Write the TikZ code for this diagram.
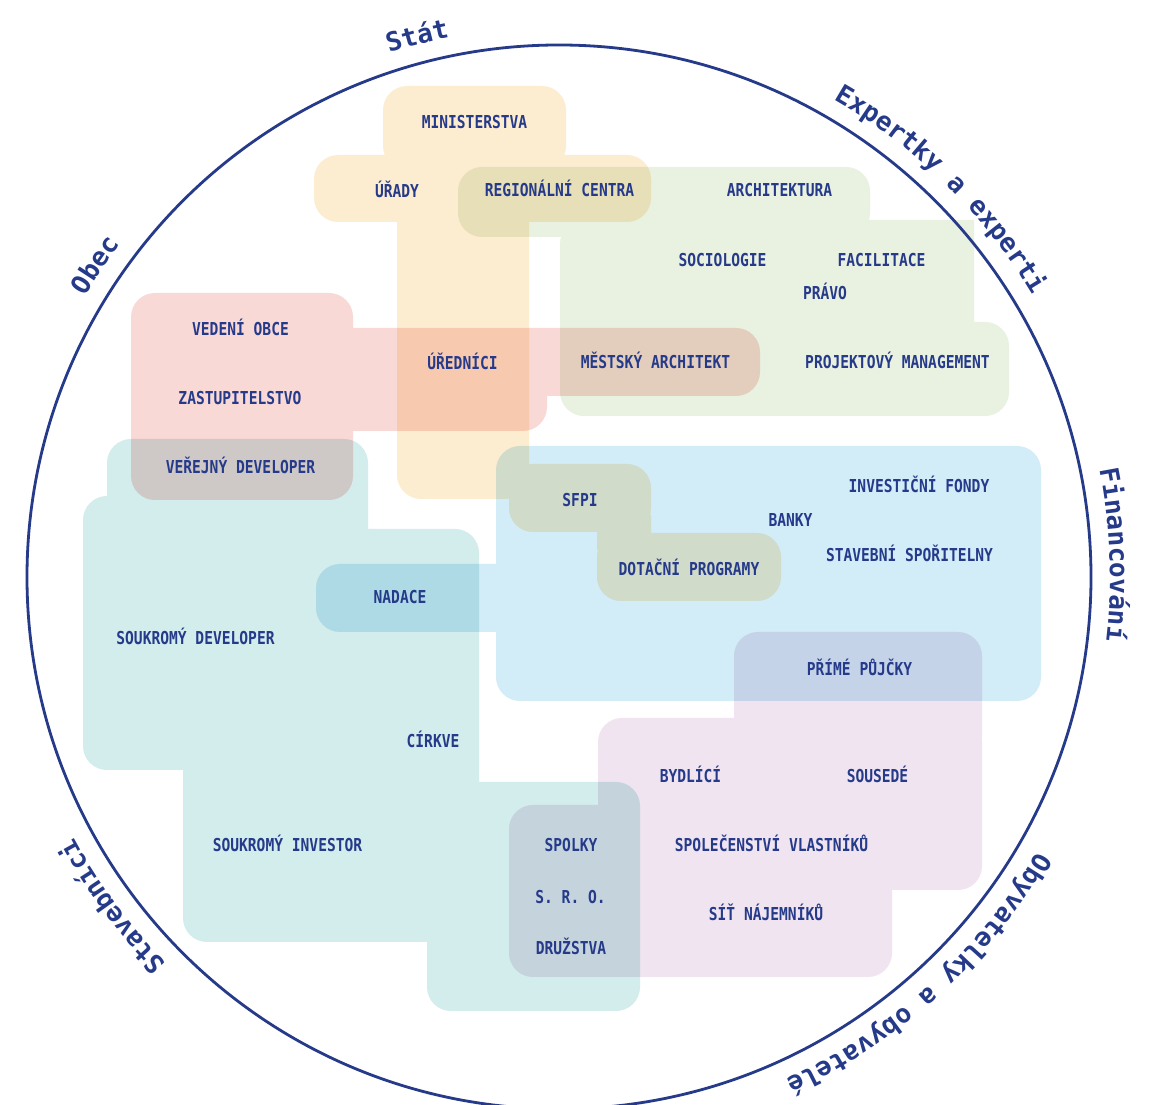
\documentclass[tikz,border=0pt]{standalone}
\usepackage{fontspec}
\usetikzlibrary{decorations.text,calc}
\newfontfamily\boxfam{DejaVu Sans Mono}[FakeStretch=0.82]
\newfontfamily\circfam{DejaVu Sans Mono}
\newcommand\boxfont{\boxfam\bfseries\fontsize{17.8}{20}\selectfont}
\newcommand\circfont{\circfam\bfseries\fontsize{26}{28}\selectfont}
\definecolor{navy}{HTML}{263A8A}
\definecolor{cyel}{HTML}{FDEDD0}
\definecolor{cgrn}{HTML}{E9F1E1}
\definecolor{cpnk}{HTML}{F9D9D6}
\definecolor{ctel}{HTML}{D3ECEC}
\definecolor{cblu}{HTML}{D2ECF8}
\definecolor{cpur}{HTML}{EFE4EF}
\tikzset{
  lab/.style={font=\boxfont, text=navy, inner sep=0pt, text height=13pt, text depth=0pt, anchor=center},
  circlab/.style={decorate, decoration={text along path, text align=center, text color=navy}},
  blob/.style={rounded corners=24pt}
}
\begin{document}
\begin{tikzpicture}[x=1pt,y=1pt]
\useasboundingbox (0,0) rectangle (1156,1105);
\clip (0,0) rectangle (1156,1105);
\fill[white] (0,0) rectangle (1156,1105);
\begin{scope}[blend mode=multiply]
% Stat (yellow)
\fill[cyel, blob] (383,935) rectangle (566,1019)
  (314,883) rectangle (651,950)
  (397,606) rectangle (529,925)
  (509,573) rectangle (651,641)
  (597,504) rectangle (781,572)
  [sharp corners] (597,555) rectangle (651,590);
% Expertky a experti (green)
\fill[cgrn, blob] (458,868) rectangle (870,938)
  (560,689) rectangle (974,885)
  (560,689) rectangle (1009,783)
  [sharp corners] (940,855) rectangle (974,885);
% Obec (pink)
\fill[cpnk, blob] (131,605) rectangle (353,812)
  (300,709) rectangle (760,777)
  (300,674) rectangle (547,777);
% Stavebnici (teal)
\fill[ctel, blob] (107,545) rectangle (368,666)
  (83,335) rectangle (300,609)
  (183,163) rectangle (479,576)
  (427,94) rectangle (640,323);
% Financovani (blue)
\fill[cblu, blob] (496,404) rectangle (1041,659)
  (316,473) rectangle (520,541);
% Obyvatelky a obyvatele (purple)
\fill[cpur, blob] (734,345) rectangle (982,473)
  (598,215) rectangle (982,387)
  (509,128) rectangle (892,300);
\end{scope}

\coordinate (C) at (559,528);
\draw[navy, line width=2.8pt] (C) circle[radius=532];

\path[circlab, decoration={text={|\circfont|Stát}}]
  ($(C)+(144.7:551)$) arc[start angle=144.7, end angle=64.7, radius=551];
\path[circlab, decoration={text={|\circfont|Expertky a experti}}]
  ($(C)+(85.5:551)$) arc[start angle=85.5, end angle=5.5, radius=551];
\path[circlab, decoration={text={|\circfont|Financování}}]
  ($(C)+(42.3:551)$) arc[start angle=42.3, end angle=-37.7, radius=551];
\path[circlab, decoration={text={|\circfont|Obyvatelky a obyvatelé}}]
  ($(C)+(-7.8:551)$) arc[start angle=-7.8, end angle=-87.8, radius=551];
\path[circlab, decoration={text={|\circfont|Stavebníci}}]
  ($(C)+(256.4:551)$) arc[start angle=256.4, end angle=176.4, radius=551];
\path[circlab, decoration={text={|\circfont|Obec}}]
  ($(C)+(186.1:551)$) arc[start angle=186.1, end angle=106.1, radius=551];

\node[lab] (ministerstva) at (474.5,983) {MINISTERSTVA};
\node[lab] (urady) at (397,914) {ÚŘADY};
\node[lab] (regionalni) at (559.5,915) {REGIONÁLNÍ CENTRA};
\node[lab] (architektura) at (779.5,915) {ARCHITEKTURA};
\node[lab] (sociologie) at (722.5,845) {SOCIOLOGIE};
\node[lab] (facilitace) at (881.5,845) {FACILITACE};
\node[lab] (pravo) at (825,812) {PRÁVO};
\node[lab] (vedeni) at (240.5,776) {VEDENÍ OBCE};
\node[lab] (urednici) at (462.5,742) {ÚŘEDNÍCI};
\node[lab] (mestsky) at (655.5,743) {MĚSTSKÝ ARCHITEKT};
\node[lab] (projektovy) at (897.5,743) {PROJEKTOVÝ MANAGEMENT};
\node[lab] (zastupitelstvo) at (240,707) {ZASTUPITELSTVO};
\node[lab] (verejny) at (240.5,638) {VEŘEJNÝ DEVELOPER};
\node[lab] (investicni) at (919,619) {INVESTIČNÍ FONDY};
\node[lab] (sfpi) at (580,605) {SFPI};
\node[lab] (banky) at (790.5,585) {BANKY};
\node[lab] (stavebni) at (909.5,550) {STAVEBNÍ SPOŘITELNY};
\node[lab] (dotacni) at (689,536) {DOTAČNÍ PROGRAMY};
\node[lab] (nadace) at (400,508) {NADACE};
\node[lab] (soukromydev) at (195.5,467) {SOUKROMÝ DEVELOPER};
\node[lab] (prime) at (859.5,436) {PŘÍMÉ PŮJČKY};
\node[lab] (cirkve) at (433,364) {CÍRKVE};
\node[lab] (bydlici) at (690.5,329) {BYDLÍCÍ};
\node[lab] (sousede) at (877.5,329) {SOUSEDÉ};
\node[lab] (soukromyinv) at (287.5,260) {SOUKROMÝ INVESTOR};
\node[lab] (spolky) at (571,260) {SPOLKY};
\node[lab] (spolecenstvi) at (771.5,260) {SPOLEČENSTVÍ VLASTNÍKŮ};
\node[lab] (sro) at (570.5,208) {S. R. O.};
\node[lab] (sit) at (766,191) {SÍŤ NÁJEMNÍKŮ};
\node[lab] (druzstva) at (571,157) {DRUŽSTVA};
\end{tikzpicture}
\end{document}
